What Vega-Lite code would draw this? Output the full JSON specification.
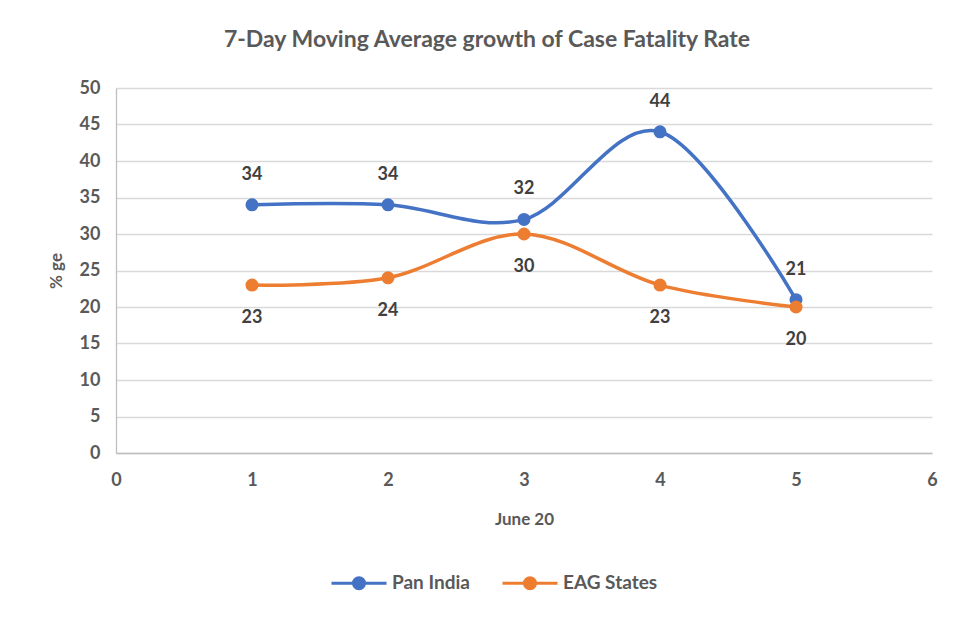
{
  "$schema": "https://vega.github.io/schema/vega-lite/v6.json",
  "width": 816,
  "height": 365,
  "autosize": "none",
  "padding": {"left": 116, "top": 88, "right": 30, "bottom": 164},
  "background": "white",
  "title": {
    "text": "7-Day Moving Average growth of Case Fatality Rate",
    "fontSize": 23,
    "fontWeight": "bold",
    "color": "#595959",
    "font": "Lato",
    "offset": 27,
    "dx": -37,
    "anchor": "middle"
  },
  "data": {
    "values": [
      {"day": 1, "value": 34, "series": "Pan India"},
      {"day": 2, "value": 34, "series": "Pan India"},
      {"day": 3, "value": 32, "series": "Pan India"},
      {"day": 4, "value": 44, "series": "Pan India"},
      {"day": 5, "value": 21, "series": "Pan India"},
      {"day": 1, "value": 23, "series": "EAG States"},
      {"day": 2, "value": 24, "series": "EAG States"},
      {"day": 3, "value": 30, "series": "EAG States"},
      {"day": 4, "value": 23, "series": "EAG States"},
      {"day": 5, "value": 20, "series": "EAG States"}
    ]
  },
  "encoding": {
    "x": {
      "field": "day", "type": "quantitative",
      "scale": {"domain": [0, 6], "nice": false},
      "axis": {"values": [0,1,2,3,4,5,6], "title": "June 20", "grid": false, "ticks": false,
               "labelPadding": 18, "titlePadding": 22, "format": "d", "labelFlush": false}
    },
    "y": {
      "field": "value", "type": "quantitative",
      "scale": {"domain": [0, 50], "nice": false},
      "axis": {"values": [0,5,10,15,20,25,30,35,40,45,50], "title": "% ge", "ticks": false,
               "labelPadding": 16, "titlePadding": 14, "domain": true, "labelFlush": false}
    },
    "color": {
      "field": "series", "type": "nominal",
      "scale": {"domain": ["Pan India", "EAG States"], "range": ["#4472C4", "#ED7D31"]},
      "legend": {
        "title": null,
        "orient": "none",
        "direction": "horizontal",
        "legendX": 214,
        "legendY": 466,
        "symbolType": "M-1,0H1M0.2,0A0.2,0.2 0 1 1 -0.2,0A0.2,0.2 0 1 1 0.2,0Z",
        "symbolSize": 3025,
        "symbolStrokeWidth": 3,
        "labelFontSize": 19,
        "labelFontWeight": "bold",
        "labelColor": "#595959",
        "labelFont": "Lato",
        "columnPadding": 26,
        "labelOffset": 4
      }
    }
  },
  "layer": [
    {"mark": {"type": "line", "interpolate": "cardinal", "strokeWidth": 3.5}},
    {"mark": {"type": "point", "filled": true, "size": 170, "opacity": 1}},
    {
      "transform": [{"filter": "datum.series === 'Pan India'"}],
      "mark": {"type": "text", "dy": -30, "fontSize": 18, "fontWeight": "bold", "font": "Lato"},
      "encoding": {"text": {"field": "value", "type": "quantitative"}, "color": {"value": "#404040"}}
    },
    {
      "transform": [{"filter": "datum.series === 'EAG States'"}],
      "mark": {"type": "text", "dy": 33, "fontSize": 18, "fontWeight": "bold", "font": "Lato"},
      "encoding": {"text": {"field": "value", "type": "quantitative"}, "color": {"value": "#404040"}}
    }
  ],
  "config": {
    "view": {"stroke": null},
    "axis": {
      "labelFont": "Lato",
      "titleFont": "Lato",
      "labelFontSize": 18,
      "labelFontWeight": "bold",
      "labelColor": "#595959",
      "titleFontSize": 17,
      "titleFontWeight": "bold",
      "titleColor": "#595959",
      "gridColor": "#d9d9d9",
      "gridWidth": 1.3,
      "domainColor": "#bfbfbf",
      "domainWidth": 1.3
    }
  }
}
